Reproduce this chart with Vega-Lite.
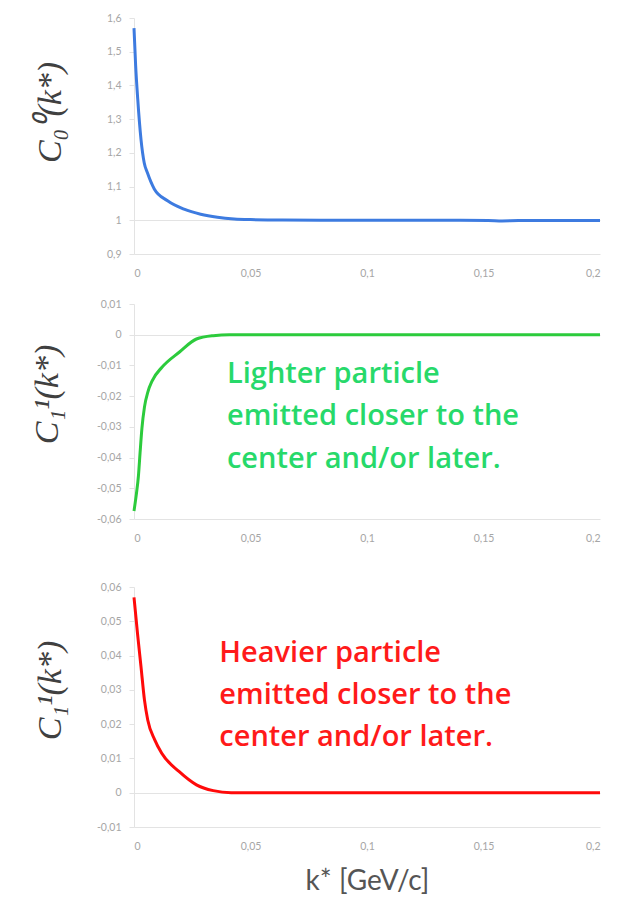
{
  "$schema": "https://vega.github.io/schema/vega-lite/v6.json",
  "background": "white",
  "padding": {"left": 29, "top": 13, "right": 10, "bottom": 5},
  "spacing": 20,
  "datasets": {
    "c00": [
      {"k": 0, "c": 1.57}, {"k": 0.0007, "c": 1.46}, {"k": 0.0016, "c": 1.36}, {"k": 0.003, "c": 1.24},
      {"k": 0.0044, "c": 1.17}, {"k": 0.0058, "c": 1.14}, {"k": 0.0087, "c": 1.093}, {"k": 0.0144, "c": 1.058},
      {"k": 0.0215, "c": 1.033}, {"k": 0.0286, "c": 1.018}, {"k": 0.0358, "c": 1.009}, {"k": 0.043, "c": 1.004},
      {"k": 0.05, "c": 1.002}, {"k": 0.06, "c": 1.001}, {"k": 0.08, "c": 1.0}, {"k": 0.1, "c": 1.0},
      {"k": 0.12, "c": 1.0}, {"k": 0.14, "c": 1.0}, {"k": 0.152, "c": 0.9995}, {"k": 0.158, "c": 0.998},
      {"k": 0.165, "c": 0.999}, {"k": 0.18, "c": 0.999}, {"k": 0.2, "c": 0.999}
    ],
    "c11a": [
      {"k": 0, "c": -0.0574}, {"k": 0.001, "c": -0.052}, {"k": 0.0019, "c": -0.046}, {"k": 0.0026, "c": -0.0385},
      {"k": 0.0034, "c": -0.0305}, {"k": 0.0045, "c": -0.0235}, {"k": 0.006, "c": -0.0185}, {"k": 0.0078, "c": -0.015},
      {"k": 0.012, "c": -0.0106}, {"k": 0.0194, "c": -0.0057}, {"k": 0.0268, "c": -0.0014}, {"k": 0.034, "c": -0.0003},
      {"k": 0.041, "c": 0}, {"k": 0.06, "c": 0}, {"k": 0.1, "c": 0}, {"k": 0.15, "c": 0}, {"k": 0.2, "c": 0}
    ],
    "c11b": [
      {"k": 0, "c": 0.057}, {"k": 0.0015, "c": 0.0465}, {"k": 0.003, "c": 0.0368}, {"k": 0.0045, "c": 0.027},
      {"k": 0.0059, "c": 0.0212}, {"k": 0.0089, "c": 0.0154}, {"k": 0.0119, "c": 0.0115}, {"k": 0.0193, "c": 0.0062},
      {"k": 0.0268, "c": 0.0023}, {"k": 0.034, "c": 0.0006}, {"k": 0.0417, "c": 0}, {"k": 0.06, "c": 0},
      {"k": 0.1, "c": 0}, {"k": 0.15, "c": 0}, {"k": 0.2, "c": 0}
    ],
    "noteGreen": [
      {"k": 0.0399, "c": -0.0128, "t": "Lighter particle"},
      {"k": 0.0399, "c": -0.0265, "t": "emitted closer to the"},
      {"k": 0.0399, "c": -0.0405, "t": "center and/or later."}
    ],
    "noteRed": [
      {"k": 0.0366, "c": 0.0408, "t": "Heavier particle"},
      {"k": 0.0366, "c": 0.0285, "t": "emitted closer to the"},
      {"k": 0.0366, "c": 0.0163, "t": "center and/or later."}
    ]
  },
  "config": {
    "view": {"stroke": null},
    "axis": {
      "grid": false,
      "labelFont": "Lato",
      "labelFontSize": 10.5,
      "labelColor": "#a6a6a6",
      "labelOverlap": false,
      "domainColor": "#e3e3e3",
      "tickColor": "#e3e3e3",
      "titleFont": "Liberation Serif",
      "titleFontStyle": "italic",
      "titleFontWeight": "normal",
      "titleColor": "#404040",
      "titleFontSize": 34
    }
  },
  "vconcat": [
    {
      "width": 466,
      "height": 236,
      "data": {"name": "c00"},
      "mark": {"type": "line", "color": "#3d7be0", "strokeWidth": 3, "interpolate": "monotone"},
      "encoding": {
        "x": {"field": "k", "type": "quantitative", "scale": {"domain": [0, 0.2]},
          "axis": {"values": [0, 0.05, 0.1, 0.15, 0.2], "ticks": false, "labelPadding": 14, "title": null, "labelOverlap": false,
            "labelExpr": "replace(format(datum.value, '.2~f'), '.', ',')"}},
        "y": {"field": "c", "type": "quantitative", "scale": {"domain": [0.9, 1.6], "zero": false},
          "axis": {"values": [0.9, 1.0, 1.1, 1.2, 1.3, 1.4, 1.5, 1.6], "tickSize": 5, "labelPadding": 8, "labelOverlap": false,
            "grid": true, "gridColor": {"condition": {"test": "abs(datum.value - 1) < 0.0001", "value": "#e3e3e3"}, "value": "transparent"},
            "labelExpr": "replace(format(datum.value, '.1~f'), '.', ',')",
            "title": "C₀⁰(k*)", "titleX": -84, "titleY": 94, "titleAngle": -90, "titleBaseline": "middle", "titleAlign": "center"}}
      }
    },
    {
      "width": 466,
      "height": 215,
      "encoding": {
        "x": {"field": "k", "type": "quantitative", "scale": {"domain": [0, 0.2]},
          "axis": {"values": [0, 0.05, 0.1, 0.15, 0.2], "ticks": false, "labelPadding": 14, "title": " ", "labelOverlap": false,
            "titleFontSize": 8, "titlePadding": 10,
            "labelExpr": "replace(format(datum.value, '.2~f'), '.', ',')"}},
        "y": {"field": "c", "type": "quantitative", "scale": {"domain": [-0.06, 0.01]},
          "axis": {"values": [-0.06, -0.05, -0.04, -0.03, -0.02, -0.01, 0, 0.01], "tickSize": 5, "labelPadding": 8, "labelOverlap": false,
            "grid": true, "gridColor": {"condition": {"test": "abs(datum.value) < 0.0001", "value": "#e3e3e3"}, "value": "transparent"},
            "labelExpr": "replace(replace(format(datum.value, '.2~f'), '.', ','), '−', '-')",
            "title": "C₁¹(k*)", "titleX": -87, "titleY": 90, "titleAngle": -90, "titleBaseline": "middle", "titleAlign": "center"}}
      },
      "layer": [
        {
          "data": {"name": "c11a"},
          "mark": {"type": "line", "color": "#2ccb3c", "strokeWidth": 3, "interpolate": "monotone"}
        },
        {
          "data": {"name": "noteGreen"},
          "mark": {"type": "text", "color": "#27d96a", "font": "Open Sans", "fontWeight": 600, "fontSize": 29, "align": "left", "baseline": "middle"},
          "encoding": {
            "text": {"field": "t"}
          }
        }
      ]
    },
    {
      "width": 466,
      "height": 240,
      "encoding": {
        "x": {"field": "k", "type": "quantitative", "scale": {"domain": [0, 0.2]},
          "axis": {"values": [0, 0.05, 0.1, 0.15, 0.2], "ticks": false, "labelPadding": 14, "labelOverlap": false,
            "title": "k* [GeV/c]", "titleFont": "Lato", "titleFontStyle": "normal", "titleFontSize": 28,
            "titleColor": "#555555", "titlePadding": 16,
            "labelExpr": "replace(format(datum.value, '.2~f'), '.', ',')"}},
        "y": {"field": "c", "type": "quantitative", "scale": {"domain": [-0.01, 0.06]},
          "axis": {"values": [-0.01, 0, 0.01, 0.02, 0.03, 0.04, 0.05, 0.06], "tickSize": 5, "labelPadding": 8, "labelOverlap": false,
            "grid": true, "gridColor": {"condition": {"test": "abs(datum.value) < 0.0001", "value": "#e3e3e3"}, "value": "transparent"},
            "labelExpr": "replace(replace(format(datum.value, '.2~f'), '.', ','), '−', '-')",
            "title": "C₁¹(k*)", "titleX": -84, "titleY": 103, "titleAngle": -90, "titleBaseline": "middle", "titleAlign": "center"}}
      },
      "layer": [
        {
          "data": {"name": "c11b"},
          "mark": {"type": "line", "color": "#ff0a0a", "strokeWidth": 3, "interpolate": "monotone"}
        },
        {
          "data": {"name": "noteRed"},
          "mark": {"type": "text", "color": "#ff1a1a", "font": "Open Sans", "fontWeight": 600, "fontSize": 29, "align": "left", "baseline": "middle"},
          "encoding": {
            "text": {"field": "t"}
          }
        }
      ]
    }
  ]
}
